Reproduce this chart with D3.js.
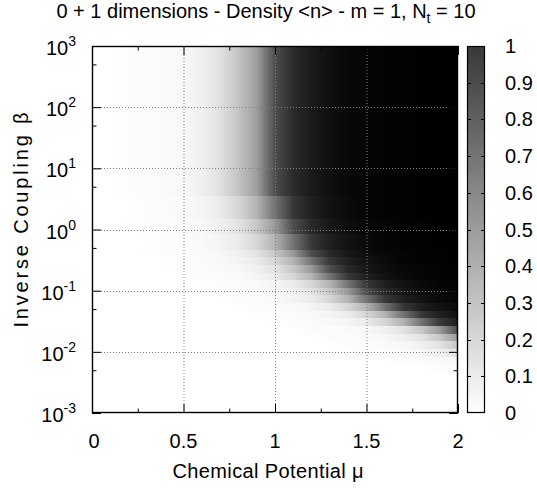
<!DOCTYPE html>
<html>
<head>
<meta charset="utf-8">
<script src="https://cdn.jsdelivr.net/npm/d3@7"></script>
<style>
  html, body { margin: 0; padding: 0; background: #fff; }
  text { font-family: "Liberation Sans", Arial, Helvetica, sans-serif; fill: #000; }
</style>
</head>
<body>
<svg id="chart" width="537" height="488"></svg>
<script>
// ---------------- data ----------------
const muValues = [0, 0.1, 0.2, 0.3, 0.4, 0.5, 0.6, 0.7, 0.8, 0.9, 1.0, 1.1, 1.2, 1.3, 1.4, 1.5, 1.6, 1.7, 1.8, 1.9, 2.0];
// log10(beta) of each row centre
const betaExponents = [-3, -2.875, -2.75, -2.625, -2.5, -2.375, -2.25, -2.125, -2, -1.875, -1.75, -1.625, -1.5, -1.375, -1.25, -1.125,
  -1, -0.875, -0.75, -0.625, -0.5, -0.375, -0.25, -0.125, 0, 0.125, 0.25, 0.375, 0.5, 0.625, 0.75, 0.875,
  1, 1.125, 1.25, 1.375, 1.5, 1.625, 1.75, 1.875, 2, 2.125, 2.25, 2.375, 2.5, 2.625, 2.75, 2.875, 3];
// density <n>, one row per beta (low beta first), one value per mu
const density = [
  [0,0,0,0,0,0,0,0,0,0,0,0,0,0,0,0,0,0,0,0,0],
  [0,0,0,0,0,0,0,0,0,0,0,0,0,0,0,0,0,0,0,0,0],
  [0,0,0,0,0,0,0,0,0,0,0,0,0,0,0,0,0,0,0,0,0],
  [0,0,0,0,0,0,0,0,0,0,0,0,0,0,0,0,0,0,0,0,0],
  [0,0,0,0,0,0,0,0,0,0,0,0,0,0,0,0,0,0,0,0,0],
  [0,0,0,0,0,0,0,0,0,0,0,0,0,0,0,0,0,0,0,0,0],
  [0,0,0,0,0,0,0,0,0,0,0,0,0,0,0,0,0,0,0,0.01,0.015],
  [0,0,0,0,0,0,0,0,0,0,0,0,0,0,0,0,0,0.01,0.01,0.02,0.03],
  [0,0,0,0,0,0,0,0,0,0,0,0,0,0,0,0.01,0.01,0.02,0.03,0.06,0.11],
  [0,0,0,0,0,0,0,0,0,0,0,0,0,0,0.01,0.01,0.02,0.03,0.06,0.11,0.22],
  [0,0,0,0,0,0,0,0,0,0,0,0,0,0.01,0.01,0.02,0.03,0.06,0.11,0.22,0.4],
  [0,0,0,0,0,0,0,0,0,0,0,0,0.01,0.01,0.02,0.03,0.06,0.11,0.22,0.4,0.7],
  [0,0,0,0,0,0,0,0,0,0,0.005,0.01,0.015,0.025,0.045,0.08,0.16,0.3,0.55,0.78,0.88],
  [0,0,0,0,0,0,0,0,0,0.005,0.01,0.015,0.025,0.045,0.08,0.16,0.3,0.55,0.78,0.88,0.93],
  [0,0,0,0,0,0,0,0,0.005,0.01,0.015,0.025,0.045,0.08,0.16,0.3,0.55,0.78,0.88,0.93,0.96],
  [0,0,0,0,0,0,0,0.005,0.01,0.015,0.025,0.045,0.08,0.16,0.3,0.55,0.78,0.88,0.93,0.96,0.98],
  [0,0,0,0,0,0,0,0.01,0.01,0.02,0.03,0.06,0.11,0.22,0.4,0.7,0.84,0.91,0.95,0.97,0.98],
  [0,0,0,0,0,0,0.005,0.01,0.015,0.025,0.045,0.08,0.16,0.3,0.55,0.78,0.88,0.93,0.96,0.98,0.99],
  [0,0,0,0,0,0.005,0.01,0.015,0.025,0.045,0.08,0.16,0.3,0.55,0.78,0.88,0.93,0.96,0.98,0.99,0.99],
  [0,0,0,0,0,0.01,0.01,0.02,0.03,0.06,0.11,0.22,0.4,0.7,0.84,0.91,0.95,0.97,0.98,0.99,0.99],
  [0,0,0,0,0.005,0.01,0.015,0.025,0.045,0.08,0.16,0.3,0.55,0.78,0.88,0.93,0.96,0.98,0.99,0.99,1],
  [0,0,0,0,0.01,0.01,0.02,0.03,0.06,0.11,0.22,0.4,0.7,0.84,0.91,0.95,0.97,0.98,0.99,0.99,1],
  [0,0,0,0.005,0.01,0.015,0.025,0.045,0.08,0.16,0.3,0.55,0.78,0.88,0.93,0.96,0.98,0.99,0.99,1,1],
  [0,0,0,0.005,0.01,0.015,0.025,0.045,0.08,0.16,0.3,0.55,0.78,0.88,0.93,0.96,0.98,0.99,0.99,1,1],
  [0,0,0,0.01,0.01,0.02,0.03,0.06,0.11,0.22,0.4,0.7,0.84,0.91,0.95,0.97,0.98,0.99,0.99,1,1],
  [0,0,0,0.01,0.01,0.02,0.03,0.06,0.11,0.22,0.4,0.7,0.84,0.91,0.95,0.97,0.98,0.99,0.99,1,1],
  [0,0,0.005,0.01,0.015,0.025,0.045,0.08,0.16,0.3,0.55,0.78,0.88,0.93,0.96,0.98,0.99,0.99,1,1,1],
  [0,0,0.005,0.01,0.015,0.025,0.045,0.08,0.16,0.3,0.55,0.78,0.88,0.93,0.96,0.98,0.99,0.99,1,1,1],
  [0,0,0.005,0.01,0.015,0.025,0.045,0.08,0.16,0.3,0.55,0.78,0.88,0.93,0.96,0.98,0.99,0.99,1,1,1],
  [0,0,0.01,0.01,0.02,0.03,0.06,0.12,0.23,0.38,0.7,0.83,0.9,0.94,0.97,0.98,0.99,0.99,1,1,1],
  [0,0,0.01,0.01,0.02,0.03,0.06,0.12,0.23,0.38,0.7,0.83,0.9,0.94,0.97,0.98,0.99,0.99,1,1,1],
  [0,0,0.01,0.01,0.02,0.03,0.06,0.12,0.23,0.38,0.7,0.83,0.9,0.94,0.97,0.98,0.99,0.99,1,1,1],
  [0,0,0.01,0.01,0.02,0.03,0.06,0.12,0.23,0.38,0.7,0.83,0.9,0.94,0.97,0.98,0.99,0.99,1,1,1],
  [0,0,0.01,0.01,0.02,0.03,0.06,0.12,0.23,0.38,0.7,0.83,0.9,0.94,0.97,0.98,0.99,0.99,1,1,1],
  [0,0,0.01,0.01,0.02,0.03,0.06,0.12,0.23,0.38,0.7,0.83,0.9,0.94,0.97,0.98,0.99,0.99,1,1,1],
  [0,0,0.01,0.01,0.02,0.03,0.06,0.12,0.23,0.38,0.7,0.83,0.9,0.94,0.97,0.98,0.99,0.99,1,1,1],
  [0,0,0.01,0.01,0.02,0.03,0.06,0.12,0.23,0.38,0.7,0.83,0.9,0.94,0.97,0.98,0.99,0.99,1,1,1],
  [0,0,0.01,0.01,0.02,0.03,0.06,0.12,0.23,0.38,0.7,0.83,0.9,0.94,0.97,0.98,0.99,0.99,1,1,1],
  [0,0,0.01,0.01,0.02,0.03,0.06,0.12,0.23,0.38,0.7,0.83,0.9,0.94,0.97,0.98,0.99,0.99,1,1,1],
  [0,0,0.01,0.01,0.02,0.03,0.06,0.12,0.23,0.38,0.7,0.83,0.9,0.94,0.97,0.98,0.99,0.99,1,1,1],
  [0,0,0.01,0.01,0.02,0.03,0.06,0.12,0.23,0.38,0.7,0.83,0.9,0.94,0.97,0.98,0.99,0.99,1,1,1],
  [0,0,0.01,0.01,0.02,0.03,0.06,0.12,0.23,0.38,0.7,0.83,0.9,0.94,0.97,0.98,0.99,0.99,1,1,1],
  [0,0,0.01,0.01,0.02,0.03,0.06,0.12,0.23,0.38,0.7,0.83,0.9,0.94,0.97,0.98,0.99,0.99,1,1,1],
  [0,0,0.01,0.01,0.02,0.03,0.06,0.12,0.23,0.38,0.7,0.83,0.9,0.94,0.97,0.98,0.99,0.99,1,1,1],
  [0,0,0.01,0.01,0.02,0.03,0.06,0.12,0.23,0.38,0.7,0.83,0.9,0.94,0.97,0.98,0.99,0.99,1,1,1],
  [0,0,0.01,0.01,0.02,0.03,0.06,0.12,0.23,0.38,0.7,0.83,0.9,0.94,0.97,0.98,0.99,0.99,1,1,1],
  [0,0,0.01,0.01,0.02,0.03,0.06,0.12,0.23,0.38,0.7,0.83,0.9,0.94,0.97,0.98,0.99,0.99,1,1,1],
  [0,0,0.01,0.01,0.02,0.03,0.06,0.12,0.23,0.38,0.7,0.83,0.9,0.94,0.97,0.98,0.99,0.99,1,1,1],
  [0,0,0.01,0.01,0.02,0.03,0.06,0.12,0.23,0.38,0.7,0.83,0.9,0.94,0.97,0.98,0.99,0.99,1,1,1]
];
const xTicks = [0, 0.5, 1, 1.5, 2];
const xTickLabels = ["0", "0.5", "1", "1.5", "2"];
const xMinorTicks = [0.25, 0.75, 1.25, 1.75];
const yTickExponents = [-3, -2, -1, 0, 1, 2, 3];
const yMinorTicks = [5e-3, 5e-2, 5e-1, 5, 50, 500];
const cbTicks = [0, 0.1, 0.2, 0.3, 0.4, 0.5, 0.6, 0.7, 0.8, 0.9, 1];
const cbTickLabels = ["0", "0.1", "0.2", "0.3", "0.4", "0.5", "0.6", "0.7", "0.8", "0.9", "1"];
const titleMain = "0 + 1 dimensions - Density <n> - m = 1, N";
const titleSub = "t";
const titleEnd = " = 10";
const xLabel = "Chemical Potential \u03bc";
const yLabel = "Inverse Coupling \u03b2";

// ---------------- layout ----------------
const L = 92, R = 458, T = 46, B = 413;
const cbL = 467, cbR = 485;
const FS = 20;

const svg = d3.select("#chart");
const defs = svg.append("defs");

const x = d3.scaleLinear().domain([0, 2]).range([L, R]);
const y = d3.scaleLog().domain([1e-3, 1e3]).range([B, T]);
const color = d3.scaleLinear().domain([0, 1]).range(["#ffffff", "#000000"]).interpolate(d3.interpolateRgb);
const cbY = d3.scaleLinear().domain([0, 1]).range([B, T]);

// ---------------- heat map rows ----------------
const half = 0.0625;
const rows = svg.append("g").attr("shape-rendering", "crispEdges");
betaExponents.forEach((e, i) => {
  const id = "row" + i;
  const g = defs.append("linearGradient").attr("id", id)
    .attr("gradientUnits", "userSpaceOnUse")
    .attr("x1", x(muValues[0])).attr("x2", x(muValues[muValues.length - 1]))
    .attr("y1", 0).attr("y2", 0);
  const span = x(muValues[muValues.length - 1]) - x(muValues[0]);
  muValues.forEach((m, j) => {
    g.append("stop").attr("offset", (x(m) - x(muValues[0])) / span)
      .attr("stop-color", color(density[i][j]));
  });
  const yTop = Math.round(y(Math.pow(10, Math.min(3, e + half))));
  const yBot = Math.round(y(Math.pow(10, Math.max(-3, e - half))));
  rows.append("rect")
    .attr("x", L).attr("width", R - L)
    .attr("y", yTop).attr("height", Math.max(1, yBot - yTop + 1))
    .attr("fill", `url(#${id})`);
});

// ---------------- grid ----------------
const grid = svg.append("g").attr("stroke", "#808080").attr("stroke-width", 1).attr("stroke-dasharray", "1,2");
xTicks.filter(v => v > 0 && v < 2).forEach(v => {
  grid.append("line").attr("x1", x(v) + 0.5).attr("x2", x(v) + 0.5).attr("y1", T).attr("y2", B);
});
yTickExponents.filter(e => e > -3 && e < 3).forEach(e => {
  const yy = Math.round(y(Math.pow(10, e))) + 0.5;
  grid.append("line").attr("x1", L).attr("x2", R).attr("y1", yy).attr("y2", yy);
});

// ---------------- axes (ticks inward) ----------------
const axStyle = sel => { sel.select(".domain").remove(); sel.selectAll("line").attr("stroke", "#000"); };
svg.append("g").attr("transform", `translate(0,${B})`)
  .call(d3.axisBottom(x).tickValues(xTicks).tickSizeInner(-9).tickSizeOuter(0).tickFormat(""))
  .call(axStyle);
svg.append("g").attr("transform", `translate(0,${B})`)
  .call(d3.axisBottom(x).tickValues(xMinorTicks).tickSizeInner(-4.5).tickSizeOuter(0).tickFormat(""))
  .call(axStyle);
svg.append("g").attr("transform", `translate(0,${T})`)
  .call(d3.axisTop(x).tickValues(xTicks).tickSizeInner(-9).tickSizeOuter(0).tickFormat(""))
  .call(axStyle);
svg.append("g").attr("transform", `translate(0,${T})`)
  .call(d3.axisTop(x).tickValues(xMinorTicks).tickSizeInner(-4.5).tickSizeOuter(0).tickFormat(""))
  .call(axStyle);
const yMajor = yTickExponents.map(e => Math.pow(10, e));
svg.append("g").attr("transform", `translate(${L},0)`)
  .call(d3.axisLeft(y).tickValues(yMajor).tickSizeInner(-9).tickSizeOuter(0).tickFormat(""))
  .call(axStyle);
svg.append("g").attr("transform", `translate(${L},0)`)
  .call(d3.axisLeft(y).tickValues(yMinorTicks).tickSizeInner(-4.5).tickSizeOuter(0).tickFormat(""))
  .call(axStyle);
svg.append("g").attr("transform", `translate(${R},0)`)
  .call(d3.axisRight(y).tickValues(yMajor).tickSizeInner(-9).tickSizeOuter(0).tickFormat(""))
  .call(axStyle);
svg.append("g").attr("transform", `translate(${R},0)`)
  .call(d3.axisRight(y).tickValues(yMinorTicks).tickSizeInner(-4.5).tickSizeOuter(0).tickFormat(""))
  .call(axStyle);

// border
svg.append("rect").attr("x", L + 0.5).attr("y", T + 0.5).attr("width", R - L - 1).attr("height", B - T - 1)
  .attr("fill", "none").attr("stroke", "#000").attr("stroke-width", 1.4);

// x tick labels
svg.append("g").selectAll("text").data(xTicks).join("text")
  .attr("x", (d, i) => x(d) + (i === 0 ? 2 : 0)).attr("y", 448)
  .attr("text-anchor", "middle").attr("font-size", FS)
  .text((d, i) => xTickLabels[i]);

// y tick labels 10^e
const yl = svg.append("g").selectAll("text").data(yTickExponents).join("text")
  .attr("x", 76).attr("y", d => y(Math.pow(10, d)) + 9)
  .attr("text-anchor", "end").attr("font-size", FS);
yl.append("tspan").text("10");
yl.append("tspan").attr("dy", -9).attr("font-size", 14).text(d => String(d));

// axis titles
svg.append("text").attr("x", 268).attr("y", 478).attr("text-anchor", "middle").attr("font-size", FS)
  .attr("textLength", 191).attr("lengthAdjust", "spacing").text(xLabel);
svg.append("text").attr("transform", `translate(28,220) rotate(-90)`)
  .attr("text-anchor", "middle").attr("font-size", FS)
  .attr("textLength", 215).attr("lengthAdjust", "spacing").text(yLabel);

// title
const tt = svg.append("text").attr("x", 266).attr("y", 18).attr("text-anchor", "middle").attr("font-size", FS);
tt.append("tspan").text(titleMain);
tt.append("tspan").attr("dy", 5).attr("font-size", 14).text(titleSub);
tt.append("tspan").attr("dy", -5).text(titleEnd);

// ---------------- colour box ----------------
const cbg = defs.append("linearGradient").attr("id", "cbgrad")
  .attr("gradientUnits", "userSpaceOnUse").attr("x1", 0).attr("x2", 0)
  .attr("y1", cbY(0)).attr("y2", cbY(1));
cbTicks.forEach(v => cbg.append("stop").attr("offset", v).attr("stop-color", color(v)));
svg.append("rect").attr("x", cbL).attr("y", T).attr("width", cbR - cbL).attr("height", B - T)
  .attr("fill", "url(#cbgrad)").attr("fill-opacity", 0.78);
const cbTickG = svg.append("g").attr("stroke", "#000").attr("stroke-width", 1);
cbTicks.filter(v => v > 0 && v < 1).forEach(v => {
  const yy = Math.round(cbY(v)) + 0.5;
  cbTickG.append("line").attr("x1", cbL).attr("x2", cbL + 4).attr("y1", yy).attr("y2", yy);
  cbTickG.append("line").attr("x1", cbR - 4).attr("x2", cbR).attr("y1", yy).attr("y2", yy);
});
svg.append("rect").attr("x", cbL + 0.5).attr("y", T + 0.5).attr("width", cbR - cbL - 1).attr("height", B - T - 1)
  .attr("fill", "none").attr("stroke", "#000").attr("stroke-width", 1.2);
svg.append("g").selectAll("text").data(cbTicks).join("text")
  .attr("x", 505).attr("y", d => cbY(d) + 7)
  .attr("font-size", FS).text((d, i) => cbTickLabels[i]);
</script>
</body>
</html>
